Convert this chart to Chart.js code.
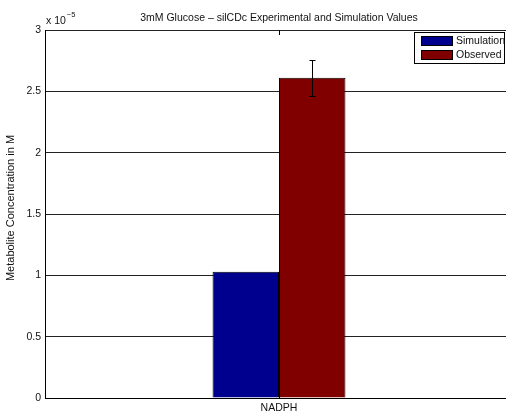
<!DOCTYPE html>
<html>
<head>
<meta charset="utf-8">
<script src="https://cdn.jsdelivr.net/npm/chart.js@4/dist/chart.umd.min.js"></script>
<style>
  html, body { margin: 0; padding: 0; background: #fff; overflow: hidden; }
  canvas { display: block; }
</style>
</head>
<body>
<canvas id="c" width="513" height="414"></canvas>
<script>
// Metabolite concentrations, in units of 1e-5 M
const categories = ['NADPH'];
const seriesNames = ['Simulation', 'Observed'];
const simulation = [1.03];
const observed = [2.61];
const observedError = [0.145];
const yTicks = [0, 0.5, 1, 1.5, 2, 2.5, 3];
const exponentLabel = ['x 10', '\u22125'];
const titleText = '3mM Glucose \u2013 silCDc Experimental and Simulation Values';
const yTitleText = 'Metabolite Concentration in M';

const FONT = "'Liberation Sans', Arial, Helvetica, sans-serif";
const colors = ['rgb(0,0,143)', 'rgb(128,0,0)'];

const decorations = {
  id: 'decorations',
  afterDatasetsDraw(chart) {
    const ctx = chart.ctx;
    const area = chart.chartArea;
    const x = chart.scales.x, y = chart.scales.y;
    ctx.save();

    // error bars on the observed series
    const meta = chart.getDatasetMeta(1);
    meta.data.forEach((bar, i) => {
      const cx = Math.round(bar.x) + 0.5;
      const top = Math.round(y.getPixelForValue(observed[i] + observedError[i])) + 0.5;
      const bot = Math.round(y.getPixelForValue(observed[i] - observedError[i])) + 0.5;
      ctx.strokeStyle = '#000';
      ctx.lineWidth = 1;
      ctx.beginPath();
      ctx.moveTo(cx, top); ctx.lineTo(cx, bot);
      ctx.moveTo(cx - 3, top); ctx.lineTo(cx + 3, top);
      ctx.moveTo(cx - 3, bot); ctx.lineTo(cx + 3, bot);
      ctx.stroke();
    });

    // category tick marks (inward, top and bottom)
    ctx.strokeStyle = '#000';
    categories.forEach((c, i) => {
      const tx = Math.round(x.getPixelForValue(i)) + 0.5;
      ctx.beginPath();
      ctx.moveTo(tx, area.top); ctx.lineTo(tx, area.top + 5);
      ctx.moveTo(tx, area.bottom); ctx.lineTo(tx, area.bottom - 5);
      ctx.stroke();
    });

    // title
    ctx.fillStyle = '#111';
    ctx.font = '10.5px ' + FONT;
    ctx.textAlign = 'center';
    ctx.textBaseline = 'middle';
    ctx.fillText(titleText, (area.left + area.right) / 2, 18);

    // axis exponent
    ctx.textAlign = 'left';
    ctx.font = '10.5px ' + FONT;
    ctx.fillText(exponentLabel[0], area.left + 1, 21);
    const w = ctx.measureText(exponentLabel[0]).width;
    ctx.font = '7.5px ' + FONT;
    ctx.fillText(exponentLabel[1], area.left + w + 2, 15);

    // y axis title
    ctx.font = '11px ' + FONT;
    ctx.save();
    ctx.translate(11, 208);
    ctx.rotate(-Math.PI / 2);
    ctx.textAlign = 'center';
    ctx.fillText(yTitleText, 0, 0);
    ctx.restore();

    // legend
    const lx = 414.5, ly = 32.5, lw = 90, lh = 31;
    ctx.fillStyle = '#fff';
    ctx.fillRect(lx, ly, lw, lh);
    ctx.strokeStyle = '#000';
    ctx.strokeRect(lx, ly, lw, lh);
    chart.data.datasets.forEach((ds, i) => {
      const sy = 36 + i * 14;
      ctx.fillStyle = ds.backgroundColor;
      ctx.fillRect(421, sy, 32, 10);
      ctx.strokeStyle = '#000';
      ctx.strokeRect(421.5, sy + 0.5, 31, 9);
      ctx.fillStyle = '#111';
      ctx.font = '10.5px ' + FONT;
      ctx.textAlign = 'left';
      ctx.textBaseline = 'middle';
      ctx.fillText(ds.label, 456, sy + 5.5);
    });

    ctx.restore();
  }
};

new Chart(document.getElementById('c'), {
  type: 'bar',
  data: {
    labels: categories,
    datasets: [
      { label: seriesNames[0], data: simulation, backgroundColor: colors[0], borderColor: '#000', borderWidth: 1 },
      { label: seriesNames[1], data: observed, backgroundColor: colors[1], borderColor: '#000', borderWidth: 1 }
    ]
  },
  options: {
    responsive: false,
    animation: false,
    layout: { padding: { top: 30, left: 0, right: 0, bottom: 0 } },
    datasets: { bar: { categoryPercentage: 0.284, barPercentage: 1.0 } },
    plugins: { legend: { display: false }, title: { display: false }, tooltip: { enabled: false } },
    scales: {
      x: {
        grid: { display: false, drawTicks: false },
        border: { display: true, color: '#000', width: 1 },
        ticks: { color: '#111', font: { family: FONT, size: 10.5 }, padding: 4 },
        afterFit(s) { s.height = 16; }
      },
      y: {
        min: 0, max: 3,
        afterBuildTicks(s) { s.ticks = yTicks.map(v => ({ value: v })); },
        grid: { color: '#222', lineWidth: 1, drawTicks: false },
        border: { display: true, color: '#000', width: 1 },
        ticks: { color: '#111', font: { family: FONT, size: 10.5 }, padding: 4, callback: v => String(v) },
        afterFit(s) { s.width = 45; }
      }
    }
  },
  plugins: [decorations]
});
</script>
</body>
</html>
